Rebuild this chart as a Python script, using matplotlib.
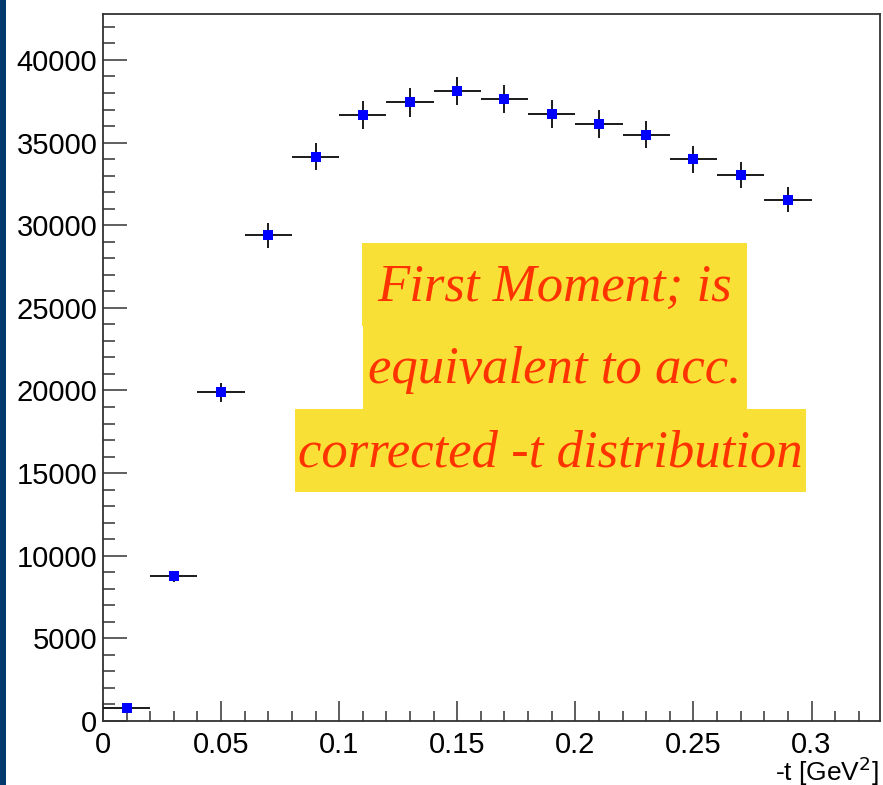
import matplotlib
matplotlib.use('Agg')
import matplotlib.pyplot as plt
from matplotlib.patches import Rectangle
import numpy as np

# -t bin centres and contents
t_centers = [0.01, 0.03, 0.05, 0.07, 0.09, 0.11, 0.13, 0.15,
             0.17, 0.19, 0.21, 0.23, 0.25, 0.27, 0.29]
counts = [790, 8760, 19880, 29380, 34150, 36650, 37430, 38120,
          37650, 36720, 36130, 35470, 33980, 33060, 31550]
count_errs = [120, 320, 600, 760, 820, 850, 860, 860,
              850, 840, 830, 820, 800, 780, 760]
t_halfwidth = [0.01] * len(t_centers)

y_ticks = [0, 5000, 10000, 15000, 20000, 25000, 30000, 35000, 40000]
x_ticks = [0, 0.05, 0.1, 0.15, 0.2, 0.25, 0.3]
x_ticklabels = ['0', '0.05', '0.1', '0.15', '0.2', '0.25', '0.3']

note_lines = ['First Moment; is', 'equivalent to acc.', 'corrected -t distribution']

W, H = 883, 785
plt.rcParams['font.family'] = ['Liberation Sans', 'DejaVu Sans']

fig = plt.figure(figsize=(W / 100, H / 100), dpi=100)
fig.patch.set_facecolor('white')

# dark slide strip on the left
fig.patches.append(Rectangle((0, 0), 6 / W, 1, transform=fig.transFigure,
                             facecolor='#003a6c', edgecolor='none'))

ax = fig.add_axes([103 / W, 1 - 721 / H, (880 - 103) / W, (721 - 14) / H])

ax.errorbar(t_centers, counts, xerr=t_halfwidth, yerr=count_errs,
            fmt='s', color='#0000ff', markersize=7.5, markeredgewidth=0,
            ecolor='#1a1a1a', elinewidth=1.4, capsize=3, capthick=1.4,
            zorder=3)

ax.set_xlim(0, 0.329)
ax.set_ylim(0, 42780)

ax.set_xticks(x_ticks)
ax.set_xticklabels(x_ticklabels)
ax.set_yticks(y_ticks)
ax.set_yticklabels([str(v) for v in y_ticks])
ax.set_xticks(np.arange(0, 0.33, 0.01), minor=True)
ax.set_yticks(np.arange(0, 42780, 1000), minor=True)

ax.tick_params(axis='y', which='major', direction='in', length=17, width=1.1,
               color='#333333', labelsize=21, pad=4)
ax.tick_params(axis='y', which='minor', direction='in', length=8.6, width=1.1,
               color='#333333')
ax.tick_params(axis='x', which='major', direction='in', length=14.4, width=1.1,
               color='#333333', labelsize=21, pad=7)
ax.tick_params(axis='x', which='minor', direction='in', length=7.2, width=1.1,
               color='#333333')

for s in ax.spines.values():
    s.set_color('#333333')
    s.set_linewidth(1.3)

fig.text(879 / W, 1 - 771 / H, r'-t [GeV$^{2}$]', ha='right', va='center',
         fontsize=19)

# yellow note boxes (one per line)
boxes = [(362, 243, 747, 326), (363, 326, 747, 409), (295, 409, 806, 492)]
for (x0, y0, x1, y1), line in zip(boxes, note_lines):
    fig.patches.append(Rectangle((x0 / W, 1 - y1 / H), (x1 - x0) / W, (y1 - y0) / H,
                                 transform=fig.transFigure,
                                 facecolor='#f8e036', edgecolor='none', zorder=5))
    fig.text((x0 + x1) / 2 / W, 1 - ((y0 + y1) / 2 + 3) / H, line,
             ha='center', va='center', fontsize=38, color='#ff3300',
             family=['Liberation Serif', 'DejaVu Serif'], style='italic', zorder=6)

fig.savefig('out.png', dpi=100)
